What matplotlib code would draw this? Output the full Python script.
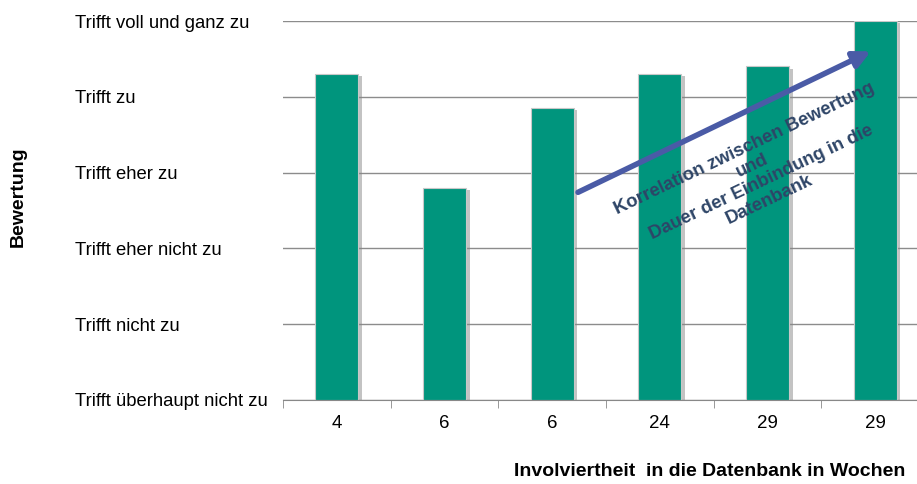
import numpy as np
import matplotlib
matplotlib.use('Agg')
import matplotlib.pyplot as plt
import matplotlib.patheffects as pe

plt.rcParams['font.family'] = ['Liberation Sans', 'DejaVu Sans']

# data
wochen = ['4', '6', '6', '24', '29', '29']
bewertung = [5.3, 3.8, 4.85, 5.3, 5.4, 6.0]
stufen = ['Trifft überhaupt nicht zu', 'Trifft nicht zu', 'Trifft eher nicht zu',
          'Trifft eher zu', 'Trifft zu', 'Trifft voll und ganz zu']
stufen_werte = [1, 2, 3, 4, 5, 6]

fig = plt.figure(figsize=(9.17, 4.84), dpi=100)
ax = fig.add_axes([283/917, 84/484, 646/917, 379/484])

x = np.arange(len(wochen))
bars = ax.bar(x, np.array(bewertung) - 1, bottom=1, width=0.4, color='#00957D',
              edgecolor='#c8c8c8', linewidth=0.8, zorder=3)
for b in bars:
    b.set_path_effects([pe.SimplePatchShadow(offset=(2.5, -1.5), shadow_rgbFace='#888888', alpha=0.5),
                        pe.Normal()])

ax.set_xlim(-0.5, len(wochen) - 0.5)
ax.set_ylim(1, 6)
ax.set_yticks(stufen_werte)
ax.set_yticklabels(stufen, fontsize=13.3)
for lab in ax.get_yticklabels():
    lab.set_ha('left')
ax.set_xticks(x)
ax.set_xticklabels(wochen, fontsize=13.5)
ax.set_xticks(np.arange(len(wochen) + 1) - 0.5, minor=True)
ax.tick_params(axis='x', which='major', length=0, pad=11)
ax.tick_params(axis='x', which='minor', length=6, color='#888888', direction='out')
ax.tick_params(axis='y', length=0, pad=149.8)
ax.yaxis.grid(True, color='#8c8c8c', linewidth=1, zorder=0)
for s in ['left', 'right', 'top']:
    ax.spines[s].set_visible(False)
ax.spines['bottom'].set_color('#888888')
ax.spines['bottom'].set_zorder(4)

ax.annotate('', xy=(4.96, 5.6), xytext=(2.24, 3.74),
            arrowprops=dict(arrowstyle='-|>,head_length=1.0,head_width=0.5', lw=4,
                            color='#4A5BA6', shrinkA=0, shrinkB=0), zorder=5)
ax.text(3.9, 3.98, 'Korrelation zwischen Bewertung\nund\nDauer der Einbindung in die\nDatenbank',
        rotation=25.5, rotation_mode='anchor', ha='center', va='center', multialignment='center',
        fontsize=13.3, fontweight='bold', color='#2E4567', linespacing=1.15, zorder=6)

fig.text(18/917, 1 - 197/484, 'Bewertung', rotation=90, ha='center', va='center',
         fontsize=14, fontweight='bold')
fig.text(905/917, 1 - 471/484, 'Involviertheit  in die Datenbank in Wochen', ha='right', va='center',
         fontsize=14, fontweight='bold')

fig.savefig('out.png', dpi=100)
